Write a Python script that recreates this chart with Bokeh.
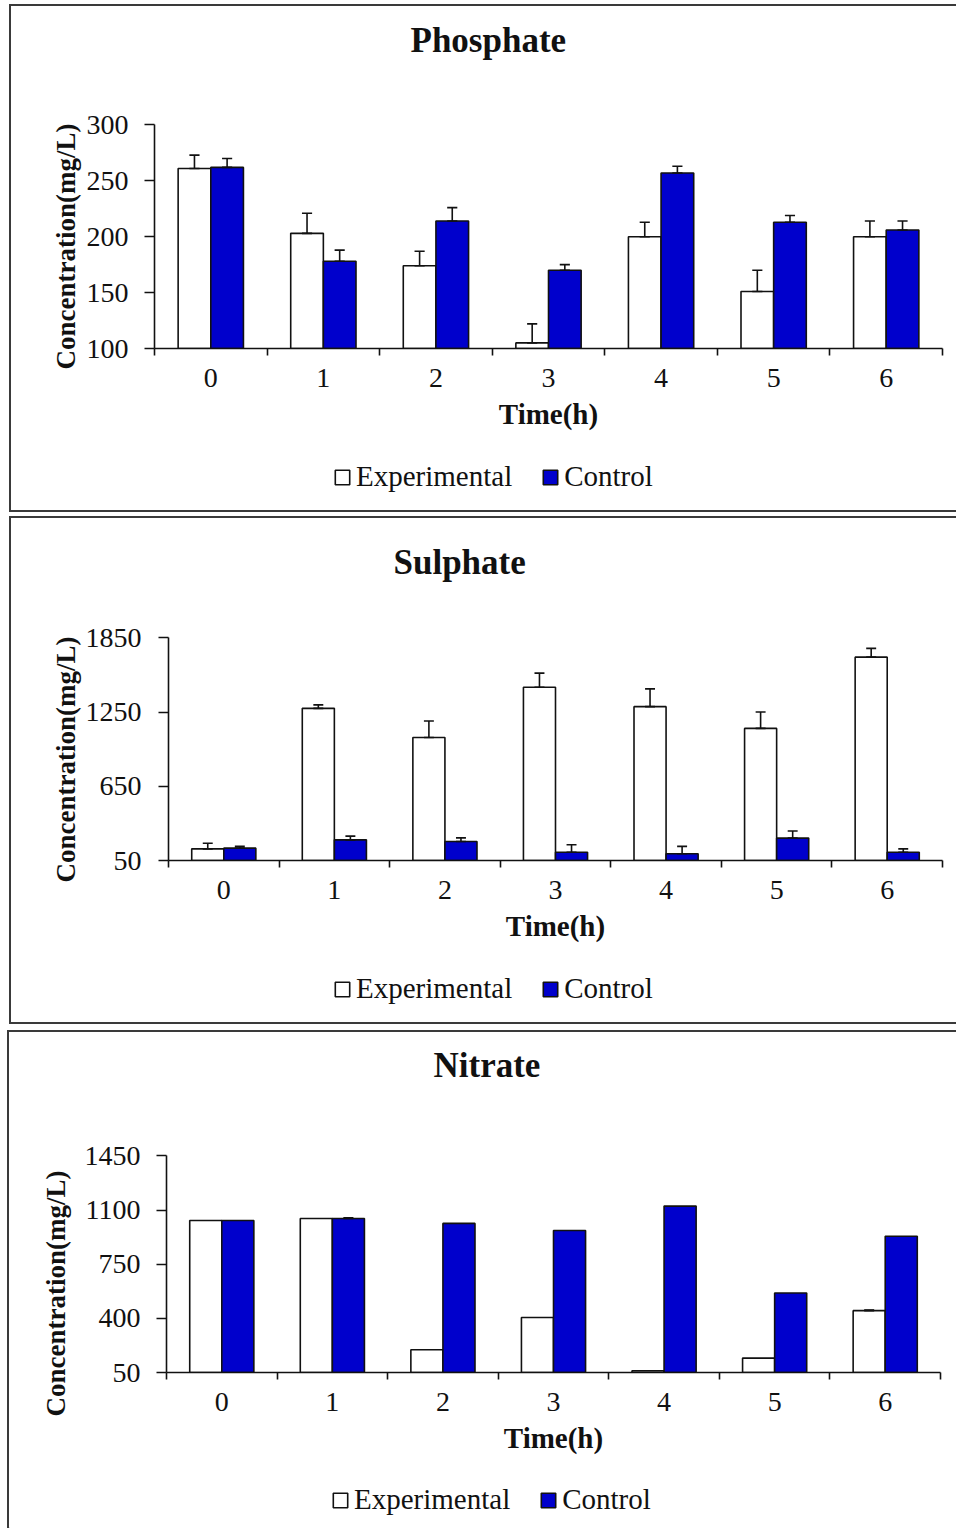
from bokeh.plotting import figure
from bokeh.models import FixedTicker, Title, Legend, LegendItem, Range1d, ColumnDataSource
from bokeh.embed import file_html
from bokeh.resources import INLINE

# ---------------- data ----------------
times = ["0", "1", "2", "3", "4", "5", "6"]

phos_exp = [261, 203, 174, 105, 200, 151, 200]
phos_exp_err = [12, 18, 13, 17, 13, 19, 14]
phos_ctl = [262, 178, 214, 170, 257, 213, 206]
phos_ctl_err = [8, 10, 12, 5, 6, 6, 8]
phos_ticks = [100, 150, 200, 250, 300]

sul_exp = [144, 1280, 1045, 1451, 1294, 1118, 1694]
sul_exp_err = [46, 28, 133, 114, 144, 133, 71]
sul_ctl = [150, 217, 204, 117, 104, 231, 117]
sul_ctl_err = [14, 30, 29, 60, 60, 57, 27]
sul_ticks = [50, 650, 1250, 1850]

nit_exp = [1033, 1046, 197, 406, 61, 143, 450]
nit_exp_err = [0, 0, 0, 0, 0, 0, 4]
nit_ctl = [1033, 1046, 1014, 968, 1126, 564, 931]
nit_ctl_err = [0, 5, 0, 0, 0, 0, 0]
nit_ticks = [50, 400, 750, 1100, 1450]

series_names = ["Experimental", "Control"]

FONT = "Liberation Serif"
BLUE = "#0000CC"
INK = "#111111"
BAR_W = 0.29
CAP = 0.045
B = "2px solid #3a3a3a"
BAR_STYLE = [dict(fill_color="white", line_color=INK, line_width=1.6),
             dict(fill_color=BLUE, line_color=INK, line_width=1.6)]


def err_bars(p, xs, tops, errs):
    sel = [i for i, e in enumerate(errs) if e > 0]
    if not sel:
        return
    x = [xs[i] for i in sel]
    t = [tops[i] for i in sel]
    u = [tops[i] + errs[i] for i in sel]
    src = ColumnDataSource(dict(x=x, t=t, u=u,
                                xl=[v - CAP for v in x], xr=[v + CAP for v in x]))
    kw = dict(source=src, line_color=INK, line_width=1.6)
    p.segment(x0="x", y0="t", x1="x", y1="u", **kw)
    p.segment(x0="xl", y0="u", x1="xr", y1="u", **kw)
    p.segment(x0="xl", y0="t", x1="xr", y1="t", **kw)


def chart(name, exp, exp_err, ctl, ctl_err, yticks, width, axis_px, top_extra,
          mb_left, mb_right, mb_top, mb_bottom, title_off, ylab_off, ylab_standoff,
          ytick_standoff, css):
    n = len(times)
    centers = [i + 0.5 for i in range(n)]
    ymin, ymax = yticks[0], yticks[-1]
    frame_h = axis_px + top_extra
    yend = ymax + top_extra * (ymax - ymin) / axis_px
    p = figure(width=width, height=mb_top + frame_h + mb_bottom,
               x_range=Range1d(0, n), y_range=Range1d(ymin, yend),
               output_backend="svg", toolbar_location=None,
               min_border_left=mb_left, min_border_right=mb_right,
               min_border_top=mb_top, min_border_bottom=mb_bottom,
               styles=css)
    p.outline_line_color = None
    p.grid.visible = False
    p.background_fill_color = "white"
    p.border_fill_color = "white"

    p.title.text = name
    p.title.align = "left"
    p.title.offset = title_off
    p.title.standoff = 10
    p.title.text_font = FONT
    p.title.text_font_size = "35px"
    p.title.text_font_style = "bold"
    p.title.text_color = INK

    xe = [c - BAR_W / 2 for c in centers]
    xc = [c + BAR_W / 2 for c in centers]
    p.vbar(x=xe, top=exp, bottom=ymin, width=BAR_W, **BAR_STYLE[0])
    p.vbar(x=xc, top=ctl, bottom=ymin, width=BAR_W, **BAR_STYLE[1])
    err_bars(p, xe, exp, exp_err)
    err_bars(p, xc, ctl, ctl_err)

    xa = p.xaxis[0]
    xa.ticker = FixedTicker(ticks=centers, minor_ticks=list(range(n + 1)))
    xa.major_label_overrides = {c: t for c, t in zip(centers, times)}
    xa.major_tick_out = 0
    xa.major_tick_in = 0
    xa.minor_tick_out = 7
    xa.minor_tick_in = 0
    xa.minor_tick_line_color = INK
    xa.minor_tick_line_width = 1.6
    xa.axis_line_color = INK
    xa.axis_line_width = 1.6
    xa.major_label_text_font = FONT
    xa.major_label_text_font_size = "28px"
    xa.major_label_text_color = INK
    xa.major_label_standoff = 13
    xa.axis_label = "Time(h)"
    xa.axis_label_text_font = FONT
    xa.axis_label_text_font_size = "29px"
    xa.axis_label_text_font_style = "bold"
    xa.axis_label_text_color = INK
    xa.axis_label_standoff = 8

    ya = p.yaxis[0]
    ya.bounds = (ymin, ymax)
    ya.ticker = FixedTicker(ticks=yticks, minor_ticks=[])
    ya.major_label_overrides = {v: str(v) for v in yticks}
    ya.major_tick_out = 10
    ya.major_tick_in = 0
    ya.major_tick_line_color = INK
    ya.major_tick_line_width = 1.6
    ya.minor_tick_out = 0
    ya.minor_tick_in = 0
    ya.axis_line_color = INK
    ya.axis_line_width = 1.6
    ya.major_label_text_font = FONT
    ya.major_label_text_font_size = "28px"
    ya.major_label_text_color = INK
    ya.major_label_standoff = ytick_standoff

    p.add_layout(Title(text="Concentration(mg/L)", align="left", offset=ylab_off,
                       text_font=FONT, text_font_size="27px", text_font_style="bold",
                       text_color=INK, standoff=ylab_standoff), "left")
    return p


def legend_strip(width, height, lx, ly, css):
    # the strip only hosts the legend; its proxy bars lie outside the visible x range
    f = figure(width=width, height=height, x_range=Range1d(1, 2), y_range=Range1d(0, 1),
               output_backend="svg", toolbar_location=None, min_border=0,
               x_axis_location=None, y_axis_location=None, styles=css)
    f.outline_line_color = None
    f.grid.visible = False
    f.background_fill_color = "white"
    f.border_fill_color = "white"
    rs = [f.vbar(x=[0], top=[0], bottom=0, width=0.1, **st) for st in BAR_STYLE]
    leg = Legend(items=[LegendItem(label=nm, renderers=[r]) for nm, r in zip(series_names, rs)],
                 location=(lx, ly), orientation="horizontal",
                 label_text_font=FONT, label_text_font_size="29px",
                 label_text_color=INK, glyph_width=18, glyph_height=18,
                 label_standoff=5, spacing=29, padding=0, margin=0,
                 border_line_color=None, background_fill_alpha=0)
    f.add_layout(leg)
    return f


CB = {"box-sizing": "content-box"}
top1 = dict(CB, **{"margin-left": "9px", "margin-top": "4px", "border-top": B, "border-left": B})
bot1 = dict(CB, **{"margin-left": "9px", "border-left": B, "border-bottom": B})
top3 = dict(CB, **{"margin-left": "7px", "margin-top": "6px", "border-top": B, "border-left": B})
bot3 = dict(CB, **{"margin-left": "7px", "border-left": B})

c1 = chart("Phosphate", phos_exp, phos_exp_err, phos_ctl, phos_ctl_err, phos_ticks,
           width=945, axis_px=222, top_extra=60, mb_left=143, mb_right=16, mb_top=58,
           mb_bottom=99, title_off=256, ylab_off=-21, ylab_standoff=6,
           ytick_standoff=16, css=top1)
l1 = legend_strip(945, 65, 322, 19, bot1)

c2 = chart("Sulphate", sul_exp, sul_exp_err, sul_ctl, sul_ctl_err, sul_ticks,
           width=945, axis_px=221, top_extra=51, mb_left=157, mb_right=16, mb_top=68,
           mb_bottom=99, title_off=225, ylab_off=-22, ylab_standoff=4,
           ytick_standoff=17, css=top1)
l2 = legend_strip(945, 65, 322, 19, bot1)

c3 = chart("Nitrate", nit_exp, nit_exp_err, nit_ctl, nit_ctl_err, nit_ticks,
           width=947, axis_px=215, top_extra=66, mb_left=157, mb_right=18, mb_top=57,
           mb_bottom=99, title_off=267, ylab_off=-44, ylab_standoff=22,
           ytick_standoff=16, css=top3)
l3 = legend_strip(947, 59, 322, 12, bot3)

open("out.html", "w").write(file_html([c1, l1, c2, l2, c3, l3], INLINE))
